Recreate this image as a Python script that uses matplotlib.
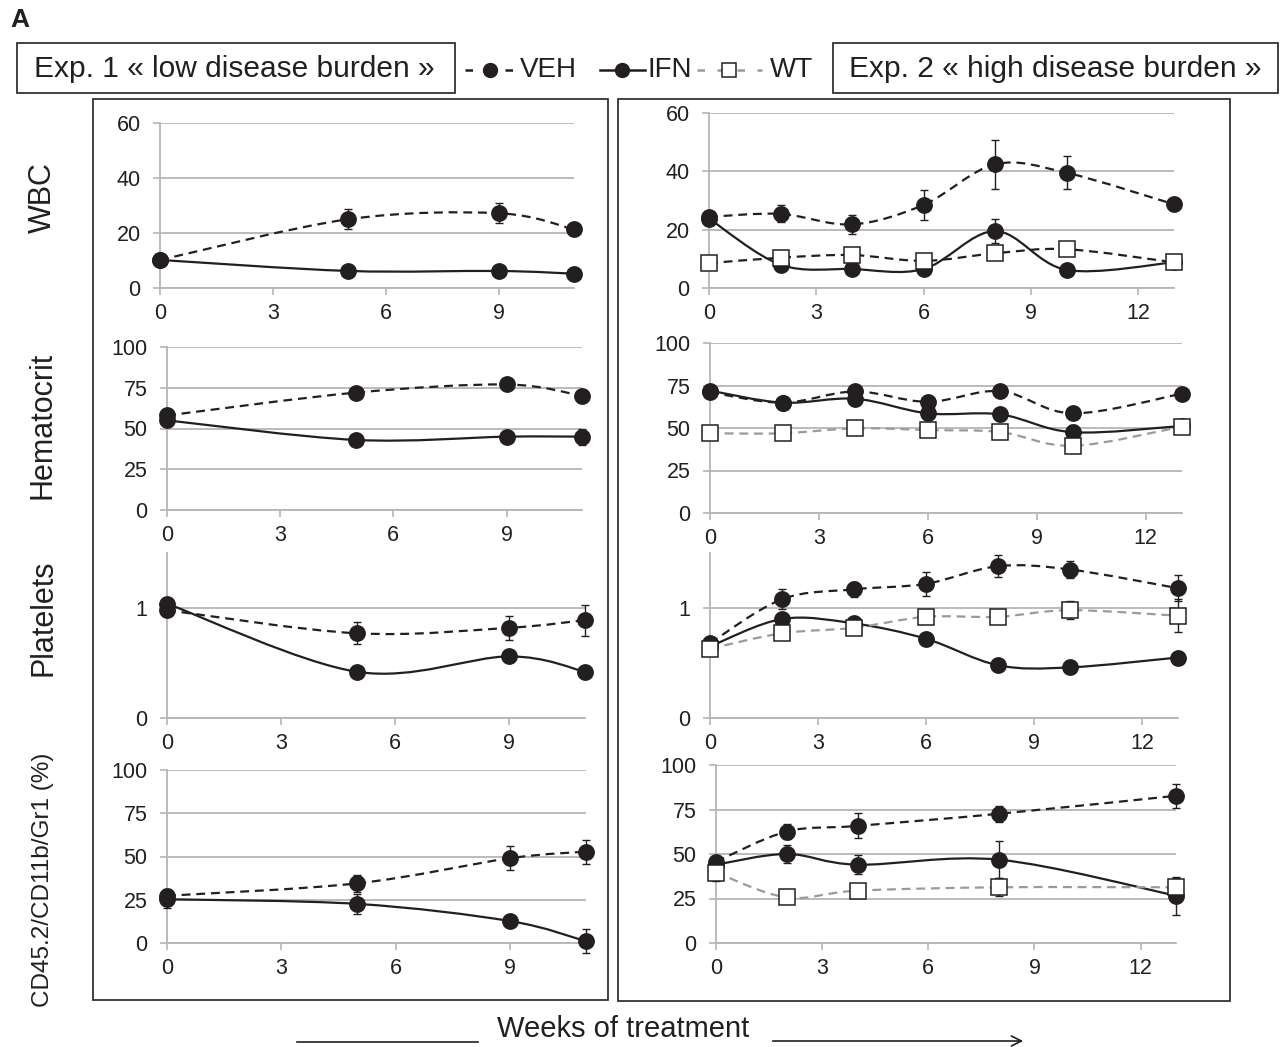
import matplotlib
matplotlib.use("Agg")
import matplotlib.pyplot as plt
import numpy as np
from matplotlib.path import Path
from matplotlib.patches import PathPatch, Rectangle

plt.rcParams['font.family'] = ['Liberation Sans', 'DejaVu Sans']

# ---- data ----
weeks1 = [0, 5, 9, 11]
weeks2 = [0, 2, 4, 6, 8, 10, 13]
weeks2_cd = [0, 2, 4, 8, 13]

# Exp. 1 - low disease burden
wbc1_veh = [10.2, 25.0, 27.2, 21.3]
wbc1_veh_err = [0, 3.6, 3.6, 0]
wbc1_ifn = [10.2, 6.2, 6.2, 5.2]
wbc1_ifn_err = [0, 0, 0, 0]

hct1_veh = [58, 72, 77, 70]
hct1_veh_err = [0, 1.5, 2, 3]
hct1_ifn = [55, 43, 45, 45]
hct1_ifn_err = [0, 1, 2, 5]

plt1_veh = [0.98, 0.77, 0.82, 0.89]
plt1_veh_err = [0.03, 0.10, 0.11, 0.14]
plt1_ifn = [1.04, 0.42, 0.56, 0.42]
plt1_ifn_err = [0, 0, 0.05, 0]

cd1_veh = [27.3, 34.5, 49, 52.8]
cd1_veh_err = [4, 5, 7, 7]
cd1_ifn = [25.3, 22.6, 12.7, 1]
cd1_ifn_err = [5, 6, 3, 7]

# Exp. 2 - high disease burden
wbc2_veh = [24.4, 25.4, 21.8, 28.5, 42.4, 39.5, 28.7]
wbc2_veh_err = [1, 2.9, 3.3, 5.1, 8.5, 5.6, 1]
wbc2_ifn = [23.8, 8.0, 6.5, 6.5, 19.5, 6.2, 8.8]
wbc2_ifn_err = [0, 0, 0, 0, 4, 0, 0]
wbc2_wt = [8.5, 10.4, 11.3, 9.3, 11.9, 13.3, 8.8]
wbc2_wt_err = [0, 0, 0, 0, 0, 0, 0]

hct2_veh = [71, 64.9, 71.5, 65.4, 71.7, 58.6, 70.2]
hct2_veh_err = [1, 1, 2, 2, 2, 3, 1]
hct2_ifn = [72, 64.9, 67.2, 58.6, 58, 47.5, 51.2]
hct2_ifn_err = [1, 1, 2, 4, 4, 4, 1]
hct2_wt = [46.9, 46.9, 49.8, 48.8, 47.6, 39.5, 50.8]
hct2_wt_err = [0, 0, 0, 0, 0, 0, 0]

plt2_veh = [0.68, 1.08, 1.17, 1.22, 1.38, 1.35, 1.18]
plt2_veh_err = [0.02, 0.09, 0.07, 0.11, 0.10, 0.08, 0.12]
plt2_ifn = [0.65, 0.90, 0.86, 0.72, 0.48, 0.46, 0.55]
plt2_ifn_err = [0, 0.03, 0.05, 0.03, 0, 0, 0]
plt2_wt = [0.63, 0.77, 0.82, 0.92, 0.92, 0.98, 0.93]
plt2_wt_err = [0.03, 0, 0.03, 0, 0, 0.08, 0.15]

cd2_veh = [45.7, 62.6, 65.8, 72.6, 82.7]
cd2_veh_err = [3, 4, 7, 4.5, 6.7]
cd2_ifn = [44, 50, 44, 46.8, 26.6]
cd2_ifn_err = [3, 5, 5.5, 10.5, 10.6]
cd2_wt = [39.6, 25.6, 29.4, 31.3, 31.3]
cd2_wt_err = [5, 0, 0, 5, 5]

row_labels = ["WBC", "Hematocrit", "Platelets", "CD45.2/CD11b/Gr1 (%)"]

W, H = 1281, 1047
BLACK = '#231f20'
GRAY_LINE = '#9a9a9a'
GRID = '#b5b5b5'

fig = plt.figure(figsize=(W / 100, H / 100), dpi=100)


def px_axes(x0, x1, ybot, ytop):
    return fig.add_axes([x0 / W, 1 - ybot / H, (x1 - x0) / W, (ybot - ytop) / H])


def smooth_path(x, y):
    # smoothed line through the points (like Excel "smoothed line")
    pts = np.column_stack([x, y]).astype(float)
    n = len(pts)
    verts = [pts[0]]
    codes = [Path.MOVETO]
    for i in range(n - 1):
        p0 = pts[max(i - 1, 0)]
        p1 = pts[i]
        p2 = pts[i + 1]
        p3 = pts[min(i + 2, n - 1)]
        verts += [p1 + (p2 - p0) / 6, p2 - (p3 - p1) / 6, p2]
        codes += [Path.CURVE4] * 3
    return Path(verts, codes)


def draw_series(ax, x, y, err, kind, wt_color=GRAY_LINE):
    if kind == 'veh':
        col, ls, mk, mfc, z = BLACK, (0, (4, 2.6)), 'o', BLACK, 4
    elif kind == 'ifn':
        col, ls, mk, mfc, z = BLACK, '-', 'o', BLACK, 4
    else:
        col, ls, mk, mfc, z = wt_color, (0, (4, 2.6)), 's', 'white', 5
    ax.add_patch(PathPatch(smooth_path(x, y), fill=False, edgecolor=col, lw=1.6,
                           linestyle=ls, capstyle='butt', clip_on=False, zorder=z - 2))
    ax.errorbar(x, y, yerr=err, fmt='none', ecolor=BLACK, elinewidth=1.0,
                capsize=3, capthick=1.0, clip_on=False, zorder=z - 1)
    ax.plot(x, y, linestyle='none', marker=mk, ms=11 if mk == 'o' else 11,
            mfc=mfc, mec=BLACK, mew=1.1, clip_on=False, zorder=z)


def style_axes(ax, xmax, ymax, yticks):
    ax.set_xlim(0, xmax)
    ax.set_ylim(0, ymax)
    ax.set_xticks([t for t in range(0, xmax + 1, 3)])
    ax.set_yticks(yticks)
    ax.set_yticklabels([str(t) for t in yticks])
    for s in ['top', 'right']:
        ax.spines[s].set_visible(False)
    for s in ['left', 'bottom']:
        ax.spines[s].set_color(GRID)
        ax.spines[s].set_linewidth(1.3)
    ax.yaxis.grid(True, color=GRID, lw=1.3)
    ax.set_axisbelow(True)
    ax.tick_params(axis='both', direction='out', length=5, width=1.2, color=GRID,
                   labelsize=15.5, labelcolor=BLACK)
    ax.tick_params(axis='y', pad=9)
    ax.tick_params(axis='x', pad=6)
    ax.patch.set_alpha(0)


# pixel frames: (x at 0, x at xmax, y at 0, y at ymax)
left_frames = [(160, 574, 288, 123), (167, 582, 510, 347), (167, 585, 718, 553), (167, 586, 943, 770)]
right_frames = [(709, 1174, 288, 113), (710, 1182, 513, 343), (710, 1178, 718, 553), (716, 1176, 943, 765)]
ymaxes = [60, 100, 1.5, 100]
yticks_list = [[0, 20, 40, 60], [0, 25, 50, 75, 100], [0, 1], [0, 25, 50, 75, 100]]

exp1 = [
    (weeks1, wbc1_veh, wbc1_veh_err, wbc1_ifn, wbc1_ifn_err),
    (weeks1, hct1_veh, hct1_veh_err, hct1_ifn, hct1_ifn_err),
    (weeks1, plt1_veh, plt1_veh_err, plt1_ifn, plt1_ifn_err),
    (weeks1, cd1_veh, cd1_veh_err, cd1_ifn, cd1_ifn_err),
]
exp2 = [
    (weeks2, wbc2_veh, wbc2_veh_err, wbc2_ifn, wbc2_ifn_err, wbc2_wt, wbc2_wt_err, BLACK),
    (weeks2, hct2_veh, hct2_veh_err, hct2_ifn, hct2_ifn_err, hct2_wt, hct2_wt_err, GRAY_LINE),
    (weeks2, plt2_veh, plt2_veh_err, plt2_ifn, plt2_ifn_err, plt2_wt, plt2_wt_err, GRAY_LINE),
    (weeks2_cd, cd2_veh, cd2_veh_err, cd2_ifn, cd2_ifn_err, cd2_wt, cd2_wt_err, GRAY_LINE),
]

for i in range(4):
    x0, x1, yb, yt = left_frames[i]
    ax = px_axes(x0, x1, yb, yt)
    style_axes(ax, 11, ymaxes[i], yticks_list[i])
    wk, veh, veh_e, ifn, ifn_e = exp1[i]
    draw_series(ax, wk, veh, veh_e, 'veh')
    draw_series(ax, wk, ifn, ifn_e, 'ifn')

    x0, x1, yb, yt = right_frames[i]
    ax = px_axes(x0, x1, yb, yt)
    style_axes(ax, 13, ymaxes[i], yticks_list[i])
    wk, veh, veh_e, ifn, ifn_e, wt, wt_e, wtc = exp2[i]
    draw_series(ax, wk, veh, veh_e, 'veh')
    draw_series(ax, wk, ifn, ifn_e, 'ifn')
    draw_series(ax, wk, wt, wt_e, 'wt', wt_color=wtc)

# ---- overlay for frames, headers, legend and labels ----
ov = fig.add_axes([0, 0, 1, 1], zorder=-1)
ov.set_xlim(0, W)
ov.set_ylim(H, 0)
ov.axis('off')

for (bx0, by0, bx1, by1) in [(93, 99, 608, 1000), (618, 99, 1230, 1001),
                             (17, 43, 455, 93), (833, 43, 1278, 93)]:
    ov.add_patch(Rectangle((bx0, by0), bx1 - bx0, by1 - by0, fill=False,
                           edgecolor='#333333', lw=1.3))

ov.text(10, 20, "A", fontsize=19, fontweight='bold', ha='left', va='center', color=BLACK)
ov.text(234, 69, "Exp. 1 « low disease burden »", fontsize=21.5, ha='center', va='center', color=BLACK)
ov.text(1055, 69, "Exp. 2 « high disease burden »", fontsize=21.5, ha='center', va='center', color=BLACK)

# legend
ov.plot([465, 515], [70, 70], color=BLACK, lw=1.8, ls=(0, (3, 5)))
ov.plot([490], [70], 'o', ms=10, color=BLACK)
ov.text(520, 70, "VEH", fontsize=20, ha='left', va='center', color=BLACK)
ov.plot([600, 645], [70, 70], color=BLACK, lw=1.8)
ov.plot([622], [70], 'o', ms=10, color=BLACK)
ov.text(648, 70, "IFN", fontsize=20, ha='left', va='center', color=BLACK)
ov.plot([697, 762], [70, 70], color=GRAY_LINE, lw=1.8, ls=(0, (3, 5)))
ov.plot([729], [70], 's', ms=10, mfc='white', mec=BLACK, mew=1.1)
ov.text(770, 70, "WT", fontsize=20, ha='left', va='center', color=BLACK)

row_y = [198, 425, 618, 880]
row_fs = [22, 22, 22, 17.5]
for lab, yy, fs in zip(row_labels, row_y, row_fs):
    ov.text(43, yy, lab, fontsize=fs, rotation=90, ha='center', va='center', color=BLACK)

ov.text(623, 1029, "Weeks of treatment", fontsize=21, ha='center', va='center', color=BLACK)
ov.plot([297, 478], [1042, 1042], color=BLACK, lw=1.2)
ov.annotate("", xy=(1026, 1041), xytext=(770, 1041),
            arrowprops=dict(arrowstyle='->', color=BLACK, lw=1.2, mutation_scale=18))

fig.savefig("out.png", dpi=100)
